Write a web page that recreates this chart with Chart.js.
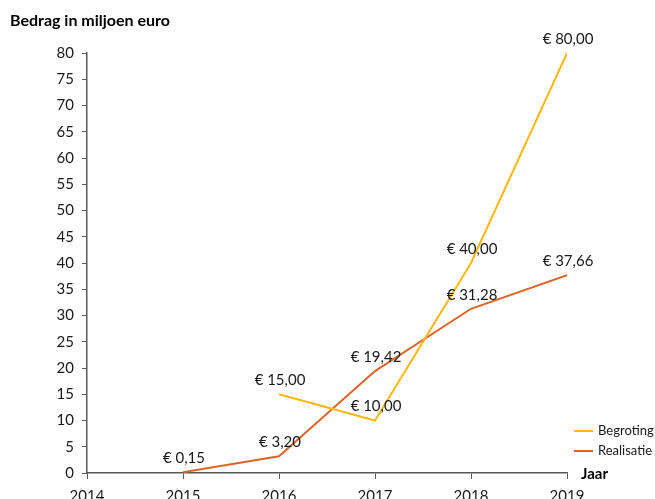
<!DOCTYPE html>
<html>
<head>
<meta charset="utf-8">
<script src="https://cdn.jsdelivr.net/npm/chart.js@4"></script>
<style>
  html, body { margin: 0; padding: 0; background: #fff; }
  #wrap { width: 655px; height: 499px; }
</style>
</head>
<body>
<div id="wrap"><canvas id="lineChart" width="655" height="499"></canvas></div>
<script>
// data
var begrotingJaren = [2016, 2017, 2018, 2019];
var begrotingWaarden = [15.00, 10.00, 40.00, 80.00];
var realisatieJaren = [2015, 2016, 2017, 2018, 2019];
var realisatieWaarden = [0.15, 3.20, 19.42, 31.28, 37.66];
var seriesNamen = ["Begroting", "Realisatie"];
var seriesKleuren = ["#FFB711", "#DC6429"];
var yTitel = "Bedrag in miljoen euro";
var xTitel = "Jaar";

var FONT = "Lato, 'Noto Sans', sans-serif";

function punten(xs, ys) {
    return xs.map(function (x, i) { return { x: x, y: ys[i] }; });
}
function euro(v) {
    return "\u20AC " + v.toFixed(2).replace(".", ",");
}

// data labels, titles and legend
var extraPlugin = {
    id: 'extra',
    afterDatasetsDraw: function (chart) {
        var ctx = chart.ctx;
        ctx.save();
        ctx.font = "15px " + FONT;
        ctx.fillStyle = "#1a1a1a";
        ctx.textAlign = "center";
        ctx.textBaseline = "middle";
        chart.data.datasets.forEach(function (ds, i) {
            chart.getDatasetMeta(i).data.forEach(function (pt, j) {
                ctx.fillText(euro(ds.data[j].y), pt.x + 1, pt.y - 14);
            });
        });
        // titles
        ctx.font = "bold 16px " + FONT;
        ctx.textAlign = "left";
        ctx.fillStyle = "#000";
        ctx.fillText(yTitel, 10, 21);
        ctx.font = "bold 15px " + FONT;
        ctx.fillText(xTitel, 581, 474);
        // legend
        ctx.font = "13px " + FONT;
        seriesNamen.forEach(function (n, i) {
            var y = 431 + i * 20;
            ctx.strokeStyle = seriesKleuren[i];
            ctx.lineWidth = 2;
            ctx.beginPath();
            ctx.moveTo(574, y);
            ctx.lineTo(593, y);
            ctx.stroke();
            ctx.fillStyle = "#1a1a1a";
            ctx.fillText(n, 598, y);
        });
        ctx.restore();
    }
};

var ctxL = document.getElementById("lineChart").getContext('2d');
var myLineChart = new Chart(ctxL, {
    type: 'line',
    data: {
        datasets: [{
                label: seriesNamen[0],
                data: punten(begrotingJaren, begrotingWaarden),
                borderColor: seriesKleuren[0],
                backgroundColor: seriesKleuren[0],
                borderWidth: 2,
                pointRadius: 0,
                tension: 0
            },
            {
                label: seriesNamen[1],
                data: punten(realisatieJaren, realisatieWaarden),
                borderColor: seriesKleuren[1],
                backgroundColor: seriesKleuren[1],
                borderWidth: 2,
                pointRadius: 0,
                tension: 0
            }
        ]
    },
    options: {
        responsive: false,
        animation: false,
        layout: { padding: { top: 53, left: 0, right: 88, bottom: 0 } },
        plugins: {
            legend: { display: false },
            tooltip: { enabled: false }
        },
        scales: {
            x: {
                type: 'linear',
                min: 2014,
                max: 2019,
                afterFit: function (s) { s.height = 26; },
                border: { color: '#595959', width: 1.5 },
                grid: { drawOnChartArea: false, drawTicks: true, tickLength: 6, color: '#595959' },
                ticks: {
                    stepSize: 1,
                    padding: 8,
                    color: '#1a1a1a',
                    font: { family: FONT, size: 15 },
                    callback: function (v) { return String(v); }
                }
            },
            y: {
                min: 0,
                max: 80,
                afterFit: function (s) { s.width = 87; },
                border: { color: '#595959', width: 1.5 },
                grid: { drawOnChartArea: false, drawTicks: true, tickLength: 5, color: '#595959' },
                ticks: {
                    stepSize: 5,
                    padding: 8,
                    color: '#1a1a1a',
                    font: { family: FONT, size: 15 }
                }
            }
        }
    },
    plugins: [extraPlugin]
});
</script>
</body>
</html>
